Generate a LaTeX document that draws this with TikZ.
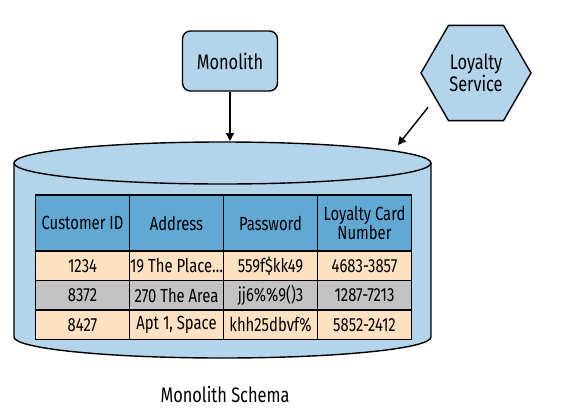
\documentclass[tikz,border=0pt]{standalone}
\usepackage{fontspec}
\setmainfont{Fira Sans}[FakeStretch=0.78]
\usetikzlibrary{shapes.geometric,arrows.meta}
\definecolor{dbblue}{RGB}{179,212,234}
\definecolor{headblue}{RGB}{98,168,213}
\definecolor{peach}{RGB}{253,225,194}
\definecolor{rowgray}{RGB}{194,194,194}

\begin{document}
\begin{tikzpicture}[x=1pt,y=1pt,
  every node/.style={font=\fontsize{21}{20}\selectfont},
  outline/.style={draw=black, line width=1.4pt},
  svcbox/.style={outline, fill=dbblue, rounded corners=8pt, minimum width=95pt, minimum height=60pt},
  svchex/.style={outline, fill=dbblue, regular polygon, regular polygon sides=6, minimum size=110pt, inner sep=0pt, align=center},
  cell/.style={outline, minimum width=94pt, minimum height=29.5pt, inner sep=0pt, font=\fontsize{19}{19}\selectfont},
  headcell/.style={cell, fill=headblue, minimum height=56pt, align=center},
  arr/.style={-{Triangle[length=8pt,width=8pt]}, line width=1.4pt}]

\useasboundingbox (0,0) rectangle (587,-413);

% database cylinder
\fill[dbblue] (14,-163) -- (14,-337) arc[start angle=180, end angle=360, x radius=208.5, y radius=21]
    -- (431,-163) arc[start angle=0, end angle=180, x radius=208.5, y radius=21] -- cycle;
\draw[outline] (14,-163) -- (14,-337) arc[start angle=180, end angle=360, x radius=208.5, y radius=21] -- (431,-163);
\draw[outline, fill=dbblue] (222.5,-163) ellipse [x radius=208.5, y radius=21];
\coordinate (dbTop) at (230,-141);
\coordinate (dbRim) at (398,-145);

\node[svcbox] (monolith) at (230,-61) {Monolith};
\node[svchex] (loyalty) at (476,-73) {Loyalty\\Service};

\draw[arr] (monolith) -- (dbTop);
\draw[arr, shorten <=11pt] (loyalty.212) -- (dbRim);

% table
\foreach \h [count=\i] in {Customer ID, Address, Password, {Loyalty Card\\Number}}
  \node[headcell] (h\i) at (94*\i-11.5, -223) {\h};

\foreach \row/\shade [count=\r] in {{1234,19 The Place\ldots,559f\$kk49,4683-3857}/peach,
    {8372,270 The Area,jj6\%\%9()3,1287-7213}/rowgray,
    {8427,{Apt 1, Space},khh25dbvf\%,5852-2412}/peach}
  \foreach \v [count=\c] in \row
    \node[cell, fill=\shade] (c\r\c) at (94*\c-11.5, -236.25-29.5*\r) {\v};

\node (schema) at (225,-394) {Monolith Schema};

\end{tikzpicture}
\end{document}
